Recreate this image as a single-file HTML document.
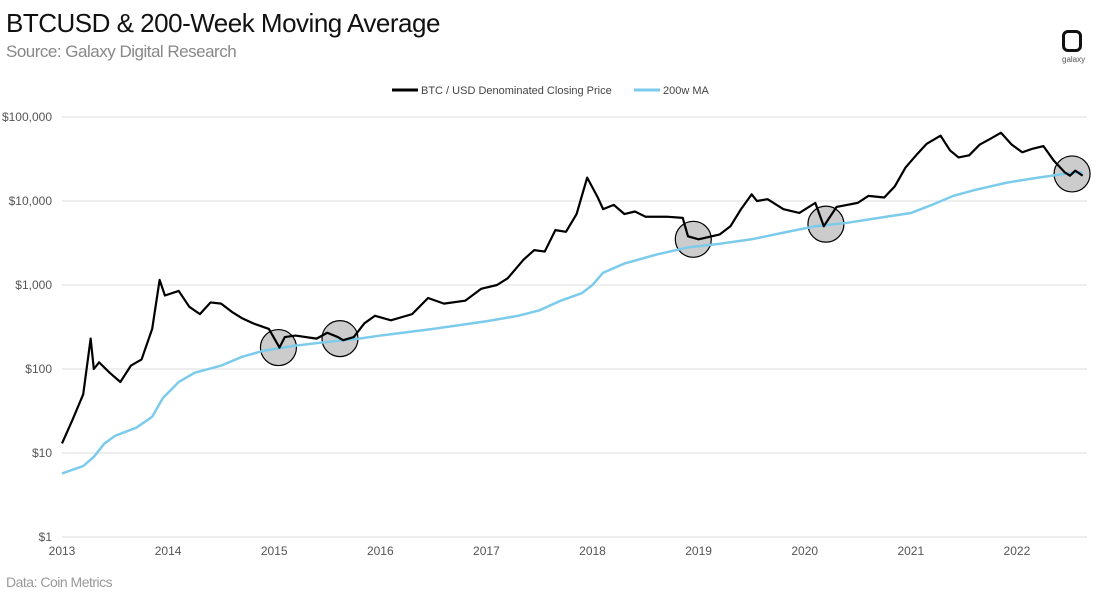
<!DOCTYPE html>
<html><head><meta charset="utf-8"><style>
body{margin:0;background:#fff;font-family:"Liberation Sans",sans-serif}
#wrap{position:relative;width:1100px;height:599px;overflow:hidden}
.t{position:absolute;white-space:nowrap}
</style></head><body>
<div id="wrap">
<div class="t" style="left:6px;top:8px;font-size:26px;color:#111;letter-spacing:-0.5px">BTCUSD &amp; 200-Week Moving Average</div>
<div class="t" style="left:6px;top:42px;font-size:17px;color:#888;letter-spacing:-0.5px">Source: Galaxy Digital Research</div>
<div class="t" style="left:6px;top:574px;font-size:14px;color:#999;letter-spacing:-0.5px">Data: Coin Metrics</div>
<div style="position:absolute;left:1062px;top:30px;width:20px;height:22px;border:3px solid #111;border-radius:6px;box-sizing:border-box"></div>
<div class="t" style="left:1062px;top:55px;font-size:8px;color:#555">galaxy</div>
<svg id="svg" width="1100" height="599" style="position:absolute;left:0;top:0"></svg>
</div>
<script>
const yearTicks=[2013,2014,2015,2016,2017,2018,2019,2020,2021,2022];
const yTickVals=[1,10,100,1000,10000,100000];
const yTickLabels=["$1","$10","$100","$1,000","$10,000","$100,000"];
const btcYears=[2013.0,2013.1,2013.2,2013.27,2013.3,2013.35,2013.45,2013.55,2013.65,2013.75,2013.85,2013.92,2013.97,2014.1,2014.2,2014.3,2014.4,2014.5,2014.6,2014.7,2014.8,2014.95,2015.05,2015.1,2015.2,2015.4,2015.5,2015.6,2015.65,2015.75,2015.85,2015.95,2016.1,2016.3,2016.45,2016.6,2016.8,2016.95,2017.1,2017.2,2017.35,2017.45,2017.55,2017.65,2017.75,2017.85,2017.95,2018.05,2018.1,2018.2,2018.3,2018.4,2018.5,2018.7,2018.85,2018.9,2019.0,2019.2,2019.3,2019.4,2019.5,2019.55,2019.65,2019.8,2019.95,2020.1,2020.18,2020.3,2020.5,2020.6,2020.75,2020.85,2020.95,2021.05,2021.15,2021.28,2021.37,2021.45,2021.55,2021.65,2021.75,2021.85,2021.95,2022.05,2022.15,2022.25,2022.35,2022.45,2022.5,2022.55,2022.62];
const btcPrices=[13,25,50,230,100,120,90,70,110,130,300,1150,750,850,550,450,620,600,480,400,350,300,180,240,250,230,270,240,220,240,350,430,380,450,700,600,650,900,1000,1200,2000,2600,2500,4500,4300,7000,19000,11000,8000,9000,7000,7500,6500,6500,6300,3800,3500,4000,5000,8000,12000,10000,10500,8000,7200,9500,5000,8500,9500,11500,11000,15000,25000,35000,48000,60000,40000,33000,35000,47000,55000,65000,47000,38000,42000,45000,30000,22000,20000,23000,20000];
const maYears=[2013.0,2013.2,2013.3,2013.4,2013.5,2013.7,2013.85,2013.95,2014.1,2014.25,2014.5,2014.7,2014.9,2015.2,2015.5,2015.8,2016.0,2016.5,2017.0,2017.3,2017.5,2017.7,2017.9,2018.0,2018.1,2018.3,2018.6,2018.9,2019.2,2019.5,2019.8,2020.1,2020.4,2020.7,2021.0,2021.2,2021.4,2021.6,2021.9,2022.2,2022.5,2022.62];
const maValues=[5.7,7,9,13,16,20,27,45,70,90,110,140,165,190,210,230,250,300,370,430,500,650,800,1000,1400,1800,2300,2800,3100,3500,4200,5000,5500,6300,7200,9000,11500,13500,16500,19000,21500,22000];
const circleYears=[2015.04,2015.62,2018.95,2020.2,2022.52];
const circleValues=[180,230,3500,5300,21000];

const svg=document.getElementById('svg'),NS='http://www.w3.org/2000/svg';
const x=yr=>62+(yr-2013)*106.1;
const y=v=>537-84*Math.log10(v);
function mk(t,a){const e=document.createElementNS(NS,t);for(const k in a)e.setAttribute(k,a[k]);svg.appendChild(e);return e;}
yTickVals.forEach((v,i)=>{
  const g=mk('line',{x1:62,x2:1087,y1:y(v),y2:y(v),stroke:'#ddd','stroke-width':1});
  
  
  const t=mk('text',{x:52,y:y(v)+4,'text-anchor':'end','font-size':12,fill:'#555','font-family':'Liberation Sans'});
  t.textContent=yTickLabels[i];
  
  
});
yearTicks.forEach(yr=>{
  const t=mk('text',{x:x(yr),y:555,'text-anchor':'middle','font-size':12,fill:'#555','font-family':'Liberation Sans'});
  t.textContent=yr;
  
  
});
circleYears.forEach((yr,i)=>{
  const c=mk('circle',{cx:x(yr),cy:y(circleValues[i]),r:18,fill:'#ccc',stroke:'#000','stroke-width':1.2});
  
  
});
const ma=mk('polyline',{points:maYears.map((yr,i)=>x(yr)+','+y(maValues[i])).join(' '),fill:'none',stroke:'#7ccbeb','stroke-width':2.5});


const btc=mk('polyline',{points:btcYears.map((yr,i)=>x(yr)+','+y(btcPrices[i])).join(' '),fill:'none',stroke:'#000','stroke-width':2.2,'stroke-linejoin':'round'});


// legend
const l1=mk('line',{x1:392,x2:418,y1:90,y2:90,stroke:'#000','stroke-width':3});


const lt1=mk('text',{x:421,y:94,'font-size':11,fill:'#444','font-family':'Liberation Sans'});
lt1.textContent='BTC / USD Denominated Closing Price';


const l2=mk('line',{x1:634,x2:660,y1:90,y2:90,stroke:'#7ccbeb','stroke-width':3});


const lt2=mk('text',{x:663,y:94,'font-size':11,fill:'#444','font-family':'Liberation Sans'});
lt2.textContent='200w MA';


</script>
</body></html>
